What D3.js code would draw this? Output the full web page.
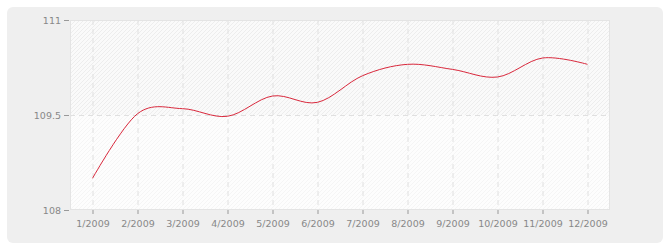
<!DOCTYPE html>
<html>
<head>
<meta charset="utf-8">
<script src="https://cdn.jsdelivr.net/npm/d3@7"></script>
<style>
  body { margin: 0; background: #fff; }
  text { font-family: "DejaVu Sans", Verdana, sans-serif; }
</style>
</head>
<body>
<div id="chart"></div>
<script>
const months = ['1/2009', '2/2009', '3/2009', '4/2009', '5/2009', '6/2009',
  '7/2009', '8/2009', '9/2009', '10/2009', '11/2009', '12/2009'];
const values = [108.5, 109.52, 109.6, 109.48, 109.8, 109.7,
  110.12, 110.3, 110.22, 110.1, 110.4, 110.3];
const yTicks = [108, 109.5, 111];

const width = 670;
const height = 250;
const margin = { top: 20, right: 60, bottom: 40, left: 70 };

const svg = d3.select('#chart')
  .append('svg')
  .attr('width', width)
  .attr('height', height);

// outer panel
svg.append('rect')
  .attr('x', 7).attr('y', 7)
  .attr('width', 656).attr('height', 236)
  .attr('rx', 6)
  .attr('fill', '#efefef');

const defs = svg.append('defs');
const pat = defs.append('pattern')
  .attr('id', 'hatch')
  .attr('patternUnits', 'userSpaceOnUse')
  .attr('width', 4).attr('height', 4);
pat.append('rect').attr('width', 4).attr('height', 4).attr('fill', '#fafafa');
pat.append('path')
  .attr('d', 'M-1,1 l2,-2 M0,4 l4,-4 M3,5 l2,-2')
  .attr('stroke', '#ededed')
  .attr('stroke-width', 1);

const pat2 = defs.append('pattern')
  .attr('id', 'hatch2')
  .attr('patternUnits', 'userSpaceOnUse')
  .attr('width', 4).attr('height', 4);
pat2.append('rect').attr('width', 4).attr('height', 4).attr('fill', '#fdfdfd');
pat2.append('path')
  .attr('d', 'M-1,1 l2,-2 M0,4 l4,-4 M3,5 l2,-2')
  .attr('stroke', '#f5f5f5')
  .attr('stroke-width', 1);

const x = d3.scalePoint()
  .domain(months)
  .range([margin.left, width - margin.right])
  .padding(0.5);

const y = d3.scaleLinear()
  .domain([108, 111])
  .range([height - margin.bottom, margin.top]);

// plot bands
svg.append('rect')
  .attr('x', margin.left).attr('y', y(111))
  .attr('width', width - margin.right - margin.left)
  .attr('height', y(109.5) - y(111))
  .attr('fill', 'url(#hatch)');
svg.append('rect')
  .attr('x', margin.left).attr('y', y(109.5))
  .attr('width', width - margin.right - margin.left)
  .attr('height', y(108) - y(109.5))
  .attr('fill', 'url(#hatch2)');

// grid
svg.append('g')
  .selectAll('line')
  .data(months)
  .enter()
  .append('line')
    .attr('x1', (d) => x(d) + 0.5).attr('x2', (d) => x(d) + 0.5)
    .attr('y1', y(111)).attr('y2', y(108))
    .attr('stroke', '#e0e0e0')
    .attr('stroke-dasharray', '5,4');

svg.append('line')
  .attr('x1', margin.left).attr('x2', width - margin.right)
  .attr('y1', y(109.5) + 0.5).attr('y2', y(109.5) + 0.5)
  .attr('stroke', '#e0e0e0')
  .attr('stroke-dasharray', '5,4');

// plot border
svg.append('rect')
  .attr('x', margin.left + 0.5).attr('y', y(111) + 0.5)
  .attr('width', width - margin.right - margin.left - 1)
  .attr('height', y(108) - y(111) - 1)
  .attr('fill', 'none')
  .attr('stroke', '#e4e4e4');

// axes
const yAxis = svg.append('g')
  .attr('transform', `translate(${margin.left - 1},0)`)
  .call(d3.axisLeft(y).tickValues(yTicks).tickSize(5).tickPadding(3)
    .tickFormat((d) => d3.format('')(d)));
yAxis.select('.domain').remove();
yAxis.selectAll('line').attr('stroke', '#999');
yAxis.selectAll('text').attr('fill', '#888').style('font-size', '9.5px')
  .style('font-family', '"DejaVu Sans", Verdana, sans-serif');

const xAxis = svg.append('g')
  .attr('transform', `translate(0,${height - margin.bottom})`)
  .call(d3.axisBottom(x).tickSize(4).tickPadding(6));
xAxis.select('.domain').remove();
xAxis.selectAll('line').attr('stroke', '#999');
xAxis.selectAll('text').attr('fill', '#888').style('font-size', '9.5px')
  .style('font-family', '"DejaVu Sans", Verdana, sans-serif');

// series line
const line = d3.line()
  .x((d, i) => x(months[i]))
  .y((d) => y(d))
  .curve(d3.curveCardinal.tension(0));

svg.append('path')
  .datum(values)
  .attr('fill', 'none')
  .attr('stroke', '#d9283c')
  .attr('stroke-width', 1)
  .attr('d', line);
</script>
</body>
</html>
